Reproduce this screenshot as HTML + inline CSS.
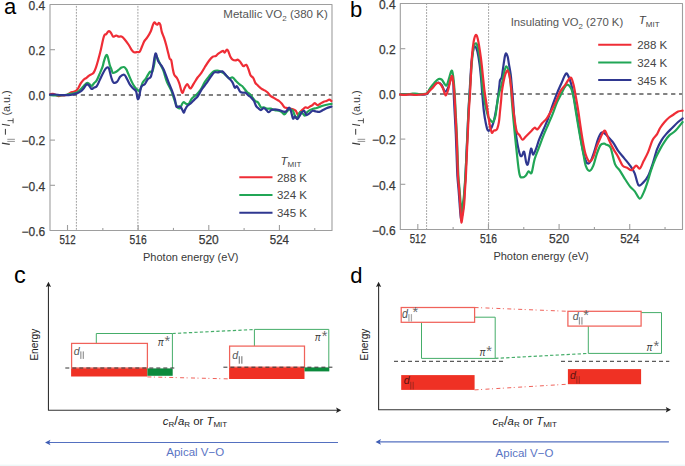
<!DOCTYPE html><html><head><meta charset="utf-8"><style>html,body{margin:0;padding:0;background:#fff;overflow:hidden;}svg{display:block;}text{font-family:"Liberation Sans", sans-serif;}</style></head><body><svg width="685" height="466" viewBox="0 0 685 466" font-family='"Liberation Sans", sans-serif'>
<rect width="685" height="466" fill="#fff"/>
<line x1="76.40" y1="4.50" x2="76.40" y2="230.50" stroke="#9a9a9a" stroke-width="0.95" stroke-dasharray="1.8 1.2" stroke-dashoffset="1.60"/>
<line x1="137.90" y1="4.50" x2="137.90" y2="230.50" stroke="#9a9a9a" stroke-width="0.95" stroke-dasharray="1.8 1.2" stroke-dashoffset="1.60"/>
<line x1="50.00" y1="95.00" x2="332.00" y2="95.00" stroke="#5a5a5a" stroke-width="1.35" stroke-dasharray="4.2 3.8" stroke-dashoffset="1.20"/>
<rect x="50.00" y="4.50" width="282.00" height="226.00" fill="none" stroke="#9e9e9e" stroke-width="1.1" stroke-linejoin="round"/>
<line x1="50.00" y1="49.70" x2="55.00" y2="49.70" stroke="#9e9e9e" stroke-width="1.1"/>
<line x1="50.00" y1="94.90" x2="55.00" y2="94.90" stroke="#9e9e9e" stroke-width="1.1"/>
<line x1="50.00" y1="140.10" x2="55.00" y2="140.10" stroke="#9e9e9e" stroke-width="1.1"/>
<line x1="50.00" y1="185.30" x2="55.00" y2="185.30" stroke="#9e9e9e" stroke-width="1.1"/>
<line x1="67.51" y1="230.50" x2="67.51" y2="225.00" stroke="#9e9e9e" stroke-width="1.1"/>
<line x1="102.83" y1="230.50" x2="102.83" y2="227.90" stroke="#9e9e9e" stroke-width="1.1"/>
<line x1="138.15" y1="230.50" x2="138.15" y2="225.00" stroke="#9e9e9e" stroke-width="1.1"/>
<line x1="173.47" y1="230.50" x2="173.47" y2="227.90" stroke="#9e9e9e" stroke-width="1.1"/>
<line x1="208.79" y1="230.50" x2="208.79" y2="225.00" stroke="#9e9e9e" stroke-width="1.1"/>
<line x1="244.11" y1="230.50" x2="244.11" y2="227.90" stroke="#9e9e9e" stroke-width="1.1"/>
<line x1="279.43" y1="230.50" x2="279.43" y2="225.00" stroke="#9e9e9e" stroke-width="1.1"/>
<line x1="314.75" y1="230.50" x2="314.75" y2="227.90" stroke="#9e9e9e" stroke-width="1.1"/>
<path d="M50.00,94.30 C50.48,94.23 51.93,93.78 52.90,93.90 C53.87,94.02 54.82,94.62 55.80,95.00 C56.78,95.38 57.82,96.12 58.80,96.20 C59.78,96.28 60.73,95.65 61.70,95.50 C62.67,95.35 63.63,95.43 64.60,95.30 C65.57,95.17 66.53,95.12 67.50,94.70 C68.47,94.28 69.42,93.28 70.40,92.80 C71.38,92.32 72.42,92.15 73.40,91.80 C74.38,91.45 75.45,91.38 76.30,90.70 C77.15,90.02 77.77,88.92 78.50,87.70 C79.23,86.48 79.85,84.73 80.70,83.40 C81.55,82.07 82.63,80.63 83.60,79.70 C84.57,78.77 85.53,78.53 86.50,77.80 C87.47,77.07 88.43,75.95 89.40,75.30 C90.37,74.65 91.57,74.38 92.30,73.90 C93.03,73.42 93.18,73.50 93.80,72.40 C94.42,71.30 95.27,69.37 96.00,67.30 C96.73,65.23 97.47,62.62 98.20,60.00 C98.93,57.38 99.55,55.18 100.40,51.60 C101.25,48.02 102.58,41.30 103.30,38.50 C104.02,35.70 104.22,35.53 104.70,34.80 C105.18,34.07 105.63,34.63 106.20,34.10 C106.77,33.57 107.57,32.07 108.10,31.60 C108.63,31.13 108.87,31.00 109.40,31.30 C109.93,31.60 110.68,32.52 111.30,33.40 C111.92,34.28 112.48,36.17 113.10,36.60 C113.72,37.03 114.45,36.18 115.00,36.00 C115.55,35.82 115.80,35.40 116.40,35.50 C117.00,35.60 117.75,36.42 118.60,36.60 C119.45,36.78 120.52,36.17 121.50,36.60 C122.48,37.03 123.28,37.80 124.50,39.20 C125.72,40.60 127.58,43.18 128.80,45.00 C130.02,46.82 130.95,48.88 131.80,50.10 C132.65,51.32 132.93,51.98 133.90,52.30 C134.87,52.62 136.62,52.12 137.60,52.00 C138.58,51.88 139.07,52.52 139.80,51.60 C140.53,50.68 141.27,48.20 142.00,46.50 C142.73,44.80 143.35,42.87 144.20,41.40 C145.05,39.93 146.00,39.40 147.10,37.70 C148.20,36.00 149.82,33.38 150.80,31.20 C151.78,29.02 152.38,26.07 153.00,24.60 C153.62,23.13 154.02,22.52 154.50,22.40 C154.98,22.28 155.42,23.53 155.90,23.90 C156.38,24.27 156.90,24.78 157.40,24.60 C157.90,24.42 158.42,22.80 158.90,22.80 C159.38,22.80 159.82,23.08 160.30,24.60 C160.78,26.12 161.18,29.72 161.80,31.90 C162.42,34.08 163.27,35.52 164.00,37.70 C164.73,39.88 165.47,42.32 166.20,45.00 C166.93,47.68 167.80,51.48 168.40,53.80 C169.00,56.12 169.32,57.80 169.80,58.90 C170.28,60.00 170.82,58.82 171.30,60.40 C171.78,61.98 172.22,66.03 172.70,68.40 C173.18,70.77 173.47,72.97 174.20,74.60 C174.93,76.23 176.25,76.73 177.10,78.20 C177.95,79.67 178.45,80.97 179.30,83.40 C180.15,85.83 181.35,91.95 182.20,92.80 C183.05,93.65 183.55,89.95 184.40,88.50 C185.25,87.05 186.32,84.10 187.30,84.10 C188.28,84.10 189.20,88.62 190.30,88.50 C191.40,88.38 192.68,85.23 193.90,83.40 C195.12,81.57 196.38,79.20 197.60,77.50 C198.82,75.80 199.98,74.95 201.20,73.20 C202.42,71.45 203.57,69.12 204.90,67.00 C206.23,64.88 207.87,62.22 209.20,60.50 C210.53,58.78 211.80,57.45 212.90,56.70 C214.00,55.95 214.95,56.48 215.80,56.00 C216.65,55.52 217.15,54.47 218.00,53.80 C218.85,53.13 220.05,52.48 220.90,52.00 C221.75,51.52 222.48,50.80 223.10,50.90 C223.72,51.00 223.98,52.80 224.60,52.60 C225.22,52.40 226.20,49.98 226.80,49.70 C227.40,49.42 227.60,49.73 228.20,50.90 C228.80,52.07 229.67,55.25 230.40,56.70 C231.13,58.15 231.75,58.98 232.60,59.60 C233.45,60.22 234.65,60.40 235.50,60.40 C236.35,60.40 236.97,59.43 237.70,59.60 C238.43,59.77 239.17,60.55 239.90,61.40 C240.63,62.25 241.50,63.90 242.10,64.70 C242.70,65.50 242.80,66.18 243.50,66.20 C244.20,66.22 245.48,64.33 246.30,64.80 C247.12,65.27 247.70,67.27 248.40,69.00 C249.10,70.73 249.68,73.70 250.50,75.20 C251.32,76.70 252.50,76.72 253.30,78.00 C254.10,79.28 254.62,81.73 255.30,82.90 C255.98,84.07 256.70,84.30 257.40,85.00 C258.10,85.70 258.68,86.40 259.50,87.10 C260.32,87.80 261.37,88.62 262.30,89.20 C263.23,89.78 264.17,90.02 265.10,90.60 C266.03,91.18 266.97,91.77 267.90,92.70 C268.83,93.63 269.77,95.38 270.70,96.20 C271.63,97.02 272.57,97.07 273.50,97.60 C274.43,98.13 275.37,98.83 276.30,99.40 C277.23,99.97 278.17,100.27 279.10,101.00 C280.03,101.73 280.98,102.75 281.90,103.80 C282.82,104.85 283.68,106.60 284.60,107.30 C285.52,108.00 286.47,107.77 287.40,108.00 C288.33,108.23 289.27,108.47 290.20,108.70 C291.13,108.93 292.07,109.05 293.00,109.40 C293.93,109.75 294.98,109.87 295.80,110.80 C296.62,111.73 297.20,114.77 297.90,115.00 C298.60,115.23 299.18,113.13 300.00,112.20 C300.82,111.27 301.87,110.22 302.80,109.40 C303.73,108.58 304.78,107.53 305.60,107.30 C306.42,107.07 307.00,108.12 307.70,108.00 C308.40,107.88 309.00,107.07 309.80,106.60 C310.60,106.13 311.70,105.78 312.50,105.20 C313.30,104.62 313.78,103.10 314.60,103.10 C315.42,103.10 316.47,105.08 317.40,105.20 C318.33,105.32 319.15,104.38 320.20,103.80 C321.25,103.22 322.65,102.17 323.70,101.70 C324.75,101.23 325.57,101.35 326.50,101.00 C327.43,100.65 328.48,99.60 329.30,99.60 C330.12,99.60 331.05,100.77 331.40,101.00" fill="none" stroke="#ef2d36" stroke-width="2.2" stroke-linejoin="round" stroke-linecap="round"/>
<path d="M50.00,95.00 C50.83,95.05 53.33,95.22 55.00,95.30 C56.67,95.38 58.33,95.55 60.00,95.50 C61.67,95.45 63.27,95.27 65.00,95.00 C66.73,94.73 68.52,94.27 70.40,93.90 C72.28,93.53 74.83,93.33 76.30,92.80 C77.77,92.27 78.12,91.67 79.20,90.70 C80.28,89.73 81.58,88.27 82.80,87.00 C84.02,85.73 85.52,83.70 86.50,83.10 C87.48,82.50 87.85,82.92 88.70,83.40 C89.55,83.88 90.75,86.00 91.60,86.00 C92.45,86.00 92.95,84.33 93.80,83.40 C94.65,82.47 95.73,81.98 96.70,80.40 C97.67,78.82 98.62,76.20 99.60,73.90 C100.58,71.60 101.87,68.73 102.60,66.60 C103.33,64.47 103.40,62.98 104.00,61.10 C104.60,59.22 105.58,56.03 106.20,55.30 C106.82,54.57 107.08,55.00 107.70,56.70 C108.32,58.40 109.30,63.48 109.90,65.50 C110.50,67.52 110.82,67.58 111.30,68.80 C111.78,70.02 112.07,72.27 112.80,72.80 C113.53,73.33 114.73,72.48 115.70,72.00 C116.67,71.52 117.63,70.63 118.60,69.90 C119.57,69.17 120.52,68.05 121.50,67.60 C122.48,67.15 123.65,66.82 124.50,67.20 C125.35,67.58 126.12,69.15 126.60,69.90 C127.08,70.65 126.53,69.70 127.40,71.70 C128.27,73.70 130.58,79.35 131.80,81.90 C133.02,84.45 133.73,85.67 134.70,87.00 C135.67,88.33 136.75,89.28 137.60,89.90 C138.45,90.52 138.95,91.92 139.80,90.70 C140.65,89.48 141.73,84.55 142.70,82.60 C143.67,80.65 144.85,80.08 145.60,79.00 C146.35,77.92 146.45,77.32 147.20,76.10 C147.95,74.88 149.25,72.43 150.10,71.70 C150.95,70.97 151.57,73.17 152.30,71.70 C153.03,70.23 153.97,65.77 154.50,62.90 C155.03,60.03 154.65,54.50 155.50,54.50 C156.35,54.50 158.32,60.28 159.60,62.90 C160.88,65.52 161.98,67.03 163.20,70.20 C164.42,73.37 165.55,78.48 166.90,81.90 C168.25,85.32 170.08,87.78 171.30,90.70 C172.52,93.62 173.23,96.73 174.20,99.40 C175.17,102.07 176.13,105.23 177.10,106.70 C178.07,108.17 179.15,108.68 180.00,108.20 C180.85,107.72 181.58,104.83 182.20,103.80 C182.82,102.77 183.08,102.00 183.70,102.00 C184.32,102.00 185.05,103.50 185.90,103.80 C186.75,104.10 187.83,104.65 188.80,103.80 C189.77,102.95 190.48,100.17 191.70,98.70 C192.92,97.23 194.63,96.47 196.10,95.00 C197.57,93.53 199.03,92.08 200.50,89.90 C201.97,87.72 203.45,84.20 204.90,81.90 C206.35,79.60 207.75,77.85 209.20,76.10 C210.65,74.35 212.25,72.33 213.60,71.40 C214.95,70.47 216.08,70.45 217.30,70.50 C218.52,70.55 219.68,71.13 220.90,71.70 C222.12,72.27 223.27,72.82 224.60,73.90 C225.93,74.98 227.57,77.60 228.90,78.20 C230.23,78.80 231.38,77.00 232.60,77.50 C233.82,78.00 234.98,80.02 236.20,81.20 C237.42,82.38 238.92,83.80 239.90,84.60 C240.88,85.40 241.38,85.35 242.10,86.00 C242.82,86.65 243.38,87.50 244.20,88.50 C245.02,89.50 246.07,91.07 247.00,92.00 C247.93,92.93 248.87,93.17 249.80,94.10 C250.73,95.03 251.68,96.45 252.60,97.60 C253.52,98.75 254.38,100.20 255.30,101.00 C256.22,101.80 257.17,101.35 258.10,102.40 C259.03,103.45 259.97,106.48 260.90,107.30 C261.83,108.12 262.65,107.07 263.70,107.30 C264.75,107.53 266.03,108.47 267.20,108.70 C268.37,108.93 269.42,108.47 270.70,108.70 C271.98,108.93 273.50,109.75 274.90,110.10 C276.30,110.45 277.93,110.45 279.10,110.80 C280.27,111.15 280.98,111.62 281.90,112.20 C282.82,112.78 283.68,114.53 284.60,114.30 C285.52,114.07 286.47,111.62 287.40,110.80 C288.33,109.98 289.27,109.40 290.20,109.40 C291.13,109.40 292.18,109.63 293.00,110.80 C293.82,111.97 294.40,115.23 295.10,116.40 C295.80,117.57 296.38,118.50 297.20,117.80 C298.02,117.10 299.07,112.90 300.00,112.20 C300.93,111.50 301.98,113.02 302.80,113.60 C303.62,114.18 304.20,115.93 304.90,115.70 C305.60,115.47 306.18,113.13 307.00,112.20 C307.82,111.27 308.77,110.68 309.80,110.10 C310.83,109.52 312.05,109.05 313.20,108.70 C314.35,108.35 315.53,108.35 316.70,108.00 C317.87,107.65 319.03,107.02 320.20,106.60 C321.37,106.18 322.42,105.85 323.70,105.50 C324.98,105.15 326.62,104.78 327.90,104.50 C329.18,104.22 330.82,103.92 331.40,103.80" fill="none" stroke="#21a656" stroke-width="2.2" stroke-linejoin="round" stroke-linecap="round"/>
<path d="M50.00,94.70 C50.83,94.67 53.33,94.45 55.00,94.50 C56.67,94.55 58.33,94.88 60.00,95.00 C61.67,95.12 63.27,95.20 65.00,95.20 C66.73,95.20 68.52,95.27 70.40,95.00 C72.28,94.73 74.58,94.20 76.30,93.60 C78.02,93.00 79.48,92.25 80.70,91.40 C81.92,90.55 82.63,89.65 83.60,88.50 C84.57,87.35 85.65,85.07 86.50,84.50 C87.35,83.93 87.85,84.37 88.70,85.10 C89.55,85.83 90.75,88.47 91.60,88.90 C92.45,89.33 92.95,88.13 93.80,87.70 C94.65,87.27 95.73,87.52 96.70,86.30 C97.67,85.08 98.62,82.47 99.60,80.40 C100.58,78.33 101.62,75.83 102.60,73.90 C103.58,71.97 104.65,69.90 105.50,68.80 C106.35,67.70 107.10,67.30 107.70,67.30 C108.30,67.30 108.50,67.10 109.10,68.80 C109.70,70.50 110.57,75.20 111.30,77.50 C112.03,79.80 112.52,81.92 113.50,82.60 C114.48,83.28 116.10,82.57 117.20,81.60 C118.30,80.63 119.02,77.97 120.10,76.80 C121.18,75.63 122.73,74.60 123.70,74.60 C124.67,74.60 124.92,75.22 125.90,76.80 C126.88,78.38 128.38,82.15 129.60,84.10 C130.82,86.05 132.12,87.28 133.20,88.50 C134.28,89.72 135.37,89.70 136.10,91.40 C136.83,93.10 137.10,97.73 137.60,98.70 C138.10,99.67 138.50,99.15 139.10,97.20 C139.70,95.25 140.23,89.18 141.20,87.00 C142.17,84.82 143.78,85.43 144.90,84.10 C146.02,82.77 146.92,80.22 147.90,79.00 C148.88,77.78 149.95,78.75 150.80,76.80 C151.65,74.85 152.22,71.18 153.00,67.30 C153.78,63.42 154.65,54.53 155.50,53.50 C156.35,52.47 157.05,58.98 158.10,61.10 C159.15,63.22 160.82,64.68 161.80,66.20 C162.78,67.72 162.90,67.58 164.00,70.20 C165.10,72.82 167.07,78.48 168.40,81.90 C169.73,85.32 170.92,87.78 172.00,90.70 C173.08,93.62 174.17,96.73 174.90,99.40 C175.63,102.07 175.67,105.53 176.40,106.70 C177.13,107.87 178.45,106.15 179.30,106.40 C180.15,106.65 180.77,107.17 181.50,108.20 C182.23,109.23 183.10,112.37 183.70,112.60 C184.30,112.83 184.50,110.70 185.10,109.60 C185.70,108.50 186.43,106.97 187.30,106.00 C188.17,105.03 189.08,104.90 190.30,103.80 C191.52,102.70 193.38,100.62 194.60,99.40 C195.82,98.18 196.38,98.20 197.60,96.50 C198.82,94.80 200.45,91.38 201.90,89.20 C203.35,87.02 204.83,85.47 206.30,83.40 C207.77,81.33 209.37,78.63 210.70,76.80 C212.03,74.97 213.08,73.13 214.30,72.40 C215.52,71.67 216.65,72.57 218.00,72.40 C219.35,72.23 221.07,70.92 222.40,71.40 C223.73,71.88 224.78,74.03 226.00,75.30 C227.22,76.57 228.60,77.78 229.70,79.00 C230.80,80.22 231.75,81.15 232.60,82.60 C233.45,84.05 234.07,87.08 234.80,87.70 C235.53,88.32 236.15,85.68 237.00,86.30 C237.85,86.92 238.93,90.33 239.90,91.40 C240.87,92.47 241.85,92.48 242.80,92.70 C243.75,92.92 244.67,92.23 245.60,92.70 C246.53,93.17 247.47,94.68 248.40,95.50 C249.33,96.32 250.27,96.68 251.20,97.60 C252.13,98.52 253.20,99.62 254.00,101.00 C254.80,102.38 255.32,104.73 256.00,105.90 C256.68,107.07 257.28,107.30 258.10,108.00 C258.92,108.70 259.97,110.10 260.90,110.10 C261.83,110.10 262.77,108.00 263.70,108.00 C264.63,108.00 265.68,109.40 266.50,110.10 C267.32,110.80 267.78,112.20 268.60,112.20 C269.42,112.20 270.35,110.57 271.40,110.10 C272.45,109.63 273.62,109.40 274.90,109.40 C276.18,109.40 277.72,109.75 279.10,110.10 C280.48,110.45 282.05,111.27 283.20,111.50 C284.35,111.73 285.02,112.13 286.00,111.50 C286.98,110.87 288.28,107.82 289.10,107.70 C289.92,107.58 290.25,109.00 290.90,110.80 C291.55,112.60 292.30,117.57 293.00,118.50 C293.70,119.43 294.40,116.28 295.10,116.40 C295.80,116.52 296.50,119.20 297.20,119.20 C297.90,119.20 298.60,117.45 299.30,116.40 C300.00,115.35 300.58,113.83 301.40,112.90 C302.22,111.97 303.38,110.45 304.20,110.80 C305.02,111.15 305.48,114.53 306.30,115.00 C307.12,115.47 308.07,114.30 309.10,113.60 C310.13,112.90 311.35,111.15 312.50,110.80 C313.65,110.45 314.83,111.32 316.00,111.50 C317.17,111.68 318.33,112.13 319.50,111.90 C320.67,111.67 321.83,110.70 323.00,110.10 C324.17,109.50 325.10,108.88 326.50,108.30 C327.90,107.72 330.58,106.88 331.40,106.60" fill="none" stroke="#2f3790" stroke-width="2.2" stroke-linejoin="round" stroke-linecap="round"/>
<text x="45.30" y="9.80" text-anchor="end" font-size="12" fill="#383838" stroke="#383838" stroke-width="0.25">0.4</text>
<text x="45.30" y="55.00" text-anchor="end" font-size="12" fill="#383838" stroke="#383838" stroke-width="0.25">0.2</text>
<text x="45.30" y="100.20" text-anchor="end" font-size="12" fill="#383838" stroke="#383838" stroke-width="0.25">0.0</text>
<text x="45.30" y="145.40" text-anchor="end" font-size="12" fill="#383838" stroke="#383838" stroke-width="0.25">−0.2</text>
<text x="45.30" y="190.60" text-anchor="end" font-size="12" fill="#383838" stroke="#383838" stroke-width="0.25">−0.4</text>
<text x="45.30" y="235.80" text-anchor="end" font-size="12" fill="#383838" stroke="#383838" stroke-width="0.25">−0.6</text>
<text x="67.51" y="243.90" text-anchor="middle" font-size="12" fill="#383838" stroke="#383838" stroke-width="0.25" textLength="16.2" lengthAdjust="spacingAndGlyphs">512</text>
<text x="138.15" y="243.90" text-anchor="middle" font-size="12" fill="#383838" stroke="#383838" stroke-width="0.25" textLength="17.1" lengthAdjust="spacingAndGlyphs">516</text>
<text x="208.79" y="243.90" text-anchor="middle" font-size="12" fill="#383838" stroke="#383838" stroke-width="0.25" textLength="20.0" lengthAdjust="spacingAndGlyphs">520</text>
<text x="279.43" y="243.90" text-anchor="middle" font-size="12" fill="#383838" stroke="#383838" stroke-width="0.25" textLength="19.2" lengthAdjust="spacingAndGlyphs">524</text>
<text x="190.70" y="260.70" text-anchor="middle" font-size="11" fill="#383838">Photon energy (eV)</text>
<g transform="translate(0.00,0)" stroke="#383838" fill="none" stroke-linecap="butt"><path d="M1.9,143.1 L9.75,144.4" stroke-width="1.15"/><path d="M7.3,139.3 H14.9 M7.3,141.4 H14.9" stroke-width="0.8" stroke="#777"/><path d="M5.4,128.9 V134.7" stroke-width="1.0"/><path d="M1.9,124.2 L9.75,125.5" stroke-width="1.15"/><path d="M7.5,120.6 H13.1 M13.1,118.3 V123.3" stroke-width="0.85"/></g><text transform="translate(9.75,115.6) rotate(-90)" font-size="10.8" fill="#383838">(a.u.)</text>
<text x="4.00" y="14.00" font-size="22" fill="#000">a</text>
<text x="327.8" y="18.3" text-anchor="end" font-size="11.5" fill="#555" textLength="104.5" lengthAdjust="spacingAndGlyphs">Metallic VO<tspan font-size="8" dy="2.5">2</tspan><tspan dy="-2.5"> (380 K)</tspan></text>
<text x="280.50" y="164.80" font-size="11.5" fill="#444"><tspan font-style="italic">T</tspan><tspan font-size="8" dy="2.6">MIT</tspan></text><line x1="239.30" y1="177.30" x2="272.50" y2="177.30" stroke="#ef2d36" stroke-width="2"/><text x="276.90" y="181.70" font-size="11.5" fill="#444">288 K</text><line x1="239.30" y1="195.00" x2="272.50" y2="195.00" stroke="#21a656" stroke-width="2"/><text x="276.90" y="199.40" font-size="11.5" fill="#444">324 K</text><line x1="239.30" y1="212.70" x2="272.50" y2="212.70" stroke="#2f3790" stroke-width="2"/><text x="276.90" y="217.10" font-size="11.5" fill="#444">345 K</text>
<line x1="426.60" y1="3.50" x2="426.60" y2="229.50" stroke="#9a9a9a" stroke-width="0.95" stroke-dasharray="1.8 1.2" stroke-dashoffset="0.40"/>
<line x1="488.60" y1="3.50" x2="488.60" y2="229.50" stroke="#9a9a9a" stroke-width="0.95" stroke-dasharray="1.8 1.2" stroke-dashoffset="0.40"/>
<line x1="400.30" y1="94.00" x2="682.50" y2="94.00" stroke="#5a5a5a" stroke-width="1.35" stroke-dasharray="4.3 3.67" stroke-dashoffset="0.20"/>
<rect x="400.30" y="3.50" width="282.20" height="226.00" fill="none" stroke="#9e9e9e" stroke-width="1.1" stroke-linejoin="round"/>
<line x1="400.30" y1="48.70" x2="405.30" y2="48.70" stroke="#9e9e9e" stroke-width="1.1"/>
<line x1="400.30" y1="93.90" x2="405.30" y2="93.90" stroke="#9e9e9e" stroke-width="1.1"/>
<line x1="400.30" y1="139.10" x2="405.30" y2="139.10" stroke="#9e9e9e" stroke-width="1.1"/>
<line x1="400.30" y1="184.30" x2="405.30" y2="184.30" stroke="#9e9e9e" stroke-width="1.1"/>
<line x1="417.81" y1="229.50" x2="417.81" y2="224.00" stroke="#9e9e9e" stroke-width="1.1"/>
<line x1="453.13" y1="229.50" x2="453.13" y2="226.90" stroke="#9e9e9e" stroke-width="1.1"/>
<line x1="488.45" y1="229.50" x2="488.45" y2="224.00" stroke="#9e9e9e" stroke-width="1.1"/>
<line x1="523.77" y1="229.50" x2="523.77" y2="226.90" stroke="#9e9e9e" stroke-width="1.1"/>
<line x1="559.09" y1="229.50" x2="559.09" y2="224.00" stroke="#9e9e9e" stroke-width="1.1"/>
<line x1="594.41" y1="229.50" x2="594.41" y2="226.90" stroke="#9e9e9e" stroke-width="1.1"/>
<line x1="629.73" y1="229.50" x2="629.73" y2="224.00" stroke="#9e9e9e" stroke-width="1.1"/>
<line x1="665.05" y1="229.50" x2="665.05" y2="226.90" stroke="#9e9e9e" stroke-width="1.1"/>
<path d="M400.00,94.50 C401.67,94.47 406.67,94.30 410.00,94.30 C413.33,94.30 417.20,94.55 420.00,94.50 C422.80,94.45 425.13,94.87 426.80,94.00 C428.47,93.13 428.57,90.97 430.00,89.30 C431.43,87.63 433.97,85.13 435.40,84.00 C436.83,82.87 437.53,82.32 438.60,82.50 C439.67,82.68 440.73,83.60 441.80,85.10 C442.87,86.60 443.92,91.15 445.00,91.50 C446.08,91.85 447.30,89.35 448.30,87.20 C449.30,85.05 450.18,79.67 451.00,78.60 C451.82,77.53 452.77,78.57 453.20,80.80 C453.63,83.03 453.33,86.30 453.60,92.00 C453.87,97.70 454.43,108.00 454.80,115.00 C455.17,122.00 455.50,127.33 455.80,134.00 C456.10,140.67 456.33,148.00 456.60,155.00 C456.87,162.00 457.07,170.17 457.40,176.00 C457.73,181.83 458.22,185.17 458.60,190.00 C458.98,194.83 459.40,201.00 459.70,205.00 C460.00,209.00 460.15,211.50 460.40,214.00 C460.65,216.50 460.88,220.00 461.20,220.00 C461.52,220.00 461.90,216.50 462.30,214.00 C462.70,211.50 463.22,209.00 463.60,205.00 C463.98,201.00 464.28,194.83 464.60,190.00 C464.92,185.17 465.20,181.83 465.50,176.00 C465.80,170.17 466.08,162.00 466.40,155.00 C466.72,148.00 467.07,141.17 467.40,134.00 C467.73,126.83 468.03,119.00 468.40,112.00 C468.77,105.00 469.08,100.33 469.60,92.00 C470.12,83.67 470.83,69.33 471.50,62.00 C472.17,54.67 473.02,50.60 473.60,48.00 C474.18,45.40 474.40,45.95 475.00,46.40 C475.60,46.85 476.43,47.68 477.20,50.70 C477.97,53.72 478.93,59.62 479.60,64.50 C480.27,69.38 480.75,75.03 481.20,80.00 C481.65,84.97 481.85,89.05 482.30,94.30 C482.75,99.55 483.28,106.50 483.90,111.50 C484.52,116.50 485.37,121.18 486.00,124.30 C486.63,127.42 487.07,129.22 487.70,130.20 C488.33,131.18 489.08,130.82 489.80,130.20 C490.52,129.58 491.28,128.20 492.00,126.50 C492.72,124.80 493.40,122.87 494.10,120.00 C494.80,117.13 495.58,112.87 496.20,109.30 C496.82,105.73 497.35,101.82 497.80,98.60 C498.25,95.38 498.62,92.35 498.90,90.00 C499.18,87.65 499.32,86.10 499.50,84.50 C499.68,82.90 499.62,81.67 500.00,80.40 C500.38,79.13 501.30,78.87 501.80,76.90 C502.30,74.93 502.50,71.95 503.00,68.60 C503.50,65.25 504.32,59.35 504.80,56.80 C505.28,54.25 505.42,53.30 505.90,53.30 C506.38,53.30 507.20,55.03 507.70,56.80 C508.20,58.57 508.40,60.95 508.90,63.90 C509.40,66.85 510.22,70.77 510.70,74.50 C511.18,78.23 511.42,82.05 511.80,86.30 C512.18,90.55 512.58,94.72 513.00,100.00 C513.42,105.28 513.72,111.63 514.30,118.00 C514.88,124.37 515.63,132.33 516.50,138.20 C517.37,144.07 518.63,150.20 519.50,153.20 C520.37,156.20 520.93,156.45 521.70,156.20 C522.47,155.95 523.35,150.68 524.10,151.70 C524.85,152.72 525.55,160.28 526.20,162.30 C526.85,164.32 527.20,166.07 528.00,163.80 C528.80,161.53 530.15,150.22 531.00,148.70 C531.85,147.18 532.25,154.70 533.10,154.70 C533.95,154.70 535.10,151.20 536.10,148.70 C537.10,146.20 537.85,142.95 539.10,139.70 C540.35,136.45 542.10,132.72 543.60,129.20 C545.10,125.68 546.60,122.62 548.10,118.60 C549.60,114.58 551.10,109.35 552.60,105.10 C554.10,100.85 555.58,96.85 557.10,93.10 C558.62,89.35 560.47,85.45 561.70,82.60 C562.93,79.75 563.65,77.52 564.50,76.00 C565.35,74.48 565.92,72.88 566.80,73.50 C567.68,74.12 568.90,77.23 569.80,79.70 C570.70,82.17 571.38,84.60 572.20,88.30 C573.02,92.00 573.87,97.17 574.70,101.90 C575.53,106.63 576.38,111.78 577.20,116.70 C578.02,121.62 578.78,126.48 579.60,131.40 C580.42,136.32 581.27,141.88 582.10,146.20 C582.93,150.52 583.70,154.43 584.60,157.30 C585.50,160.17 586.48,162.78 587.50,163.40 C588.52,164.02 589.55,163.05 590.70,161.00 C591.85,158.95 593.17,154.80 594.40,151.10 C595.63,147.40 596.92,141.88 598.10,138.80 C599.28,135.72 600.28,133.38 601.50,132.60 C602.72,131.82 604.05,133.10 605.40,134.10 C606.75,135.10 608.25,137.10 609.60,138.60 C610.95,140.10 612.10,141.10 613.50,143.10 C614.90,145.10 616.23,148.10 618.00,150.60 C619.77,153.10 622.08,155.60 624.10,158.10 C626.12,160.60 628.35,163.10 630.10,165.60 C631.85,168.10 633.20,169.85 634.60,173.10 C636.00,176.35 637.00,183.60 638.50,185.10 C640.00,186.60 642.00,183.60 643.60,182.10 C645.20,180.60 646.60,179.10 648.10,176.10 C649.60,173.10 651.10,168.60 652.60,164.10 C654.10,159.60 655.60,153.10 657.10,149.10 C658.60,145.10 660.10,142.60 661.60,140.10 C663.10,137.60 664.35,136.12 666.10,134.10 C667.85,132.08 670.10,130.02 672.10,128.00 C674.10,125.98 676.35,123.60 678.10,122.00 C679.85,120.40 681.85,119.00 682.60,118.40" fill="none" stroke="#2f3790" stroke-width="2.2" stroke-linejoin="round" stroke-linecap="round"/>
<path d="M400.00,94.50 C401.67,94.42 407.50,94.17 410.00,94.00 C412.50,93.83 413.33,93.50 415.00,93.50 C416.67,93.50 418.03,94.00 420.00,94.00 C421.97,94.00 425.13,94.45 426.80,93.50 C428.47,92.55 428.75,90.07 430.00,88.30 C431.25,86.53 432.87,84.45 434.30,82.90 C435.73,81.35 437.35,79.53 438.60,79.00 C439.85,78.47 440.80,78.87 441.80,79.70 C442.80,80.53 443.77,83.10 444.60,84.00 C445.43,84.90 446.02,86.18 446.80,85.10 C447.58,84.02 448.50,79.93 449.30,77.50 C450.10,75.07 450.95,70.67 451.60,70.50 C452.25,70.33 452.70,72.92 453.20,76.50 C453.70,80.08 454.17,85.58 454.60,92.00 C455.03,98.42 455.43,108.00 455.80,115.00 C456.17,122.00 456.50,127.33 456.80,134.00 C457.10,140.67 457.33,148.00 457.60,155.00 C457.87,162.00 458.07,170.17 458.40,176.00 C458.73,181.83 459.22,185.33 459.60,190.00 C459.98,194.67 460.38,199.92 460.70,204.00 C461.02,208.08 461.18,214.17 461.50,214.50 C461.82,214.83 462.20,209.08 462.60,206.00 C463.00,202.92 463.53,199.50 463.90,196.00 C464.27,192.50 464.52,189.00 464.80,185.00 C465.08,181.00 465.32,177.00 465.60,172.00 C465.88,167.00 466.18,161.33 466.50,155.00 C466.82,148.67 467.17,141.17 467.50,134.00 C467.83,126.83 468.12,119.00 468.50,112.00 C468.88,105.00 469.23,100.33 469.80,92.00 C470.37,83.67 471.23,69.60 471.90,62.00 C472.57,54.40 473.23,49.48 473.80,46.40 C474.37,43.32 474.73,43.67 475.30,43.50 C475.87,43.33 476.42,42.77 477.20,45.40 C477.98,48.03 479.28,54.20 480.00,59.30 C480.72,64.40 481.03,70.88 481.50,76.00 C481.97,81.12 482.13,84.98 482.80,90.00 C483.47,95.02 484.60,101.63 485.50,106.10 C486.40,110.57 487.40,114.48 488.20,116.80 C489.00,119.12 489.58,119.10 490.30,120.00 C491.02,120.90 491.87,122.20 492.50,122.20 C493.13,122.20 493.57,121.25 494.10,120.00 C494.63,118.75 495.25,117.02 495.70,114.70 C496.15,112.38 496.35,109.15 496.80,106.10 C497.25,103.05 497.93,98.83 498.40,96.40 C498.87,93.97 499.03,93.57 499.60,91.50 C500.17,89.43 501.03,87.22 501.80,84.00 C502.57,80.78 503.45,75.15 504.20,72.20 C504.95,69.25 505.52,66.30 506.30,66.30 C507.08,66.30 508.17,69.25 508.90,72.20 C509.63,75.15 510.22,79.37 510.70,84.00 C511.18,88.63 511.33,93.97 511.80,100.00 C512.27,106.03 512.72,111.83 513.50,120.20 C514.28,128.57 515.50,141.18 516.50,150.20 C517.50,159.22 518.48,169.78 519.50,174.30 C520.52,178.82 521.58,177.05 522.60,177.30 C523.62,177.55 524.60,176.80 525.60,175.80 C526.60,174.80 527.60,171.80 528.60,171.30 C529.60,170.80 530.60,174.82 531.60,172.80 C532.60,170.78 533.35,163.47 534.60,159.20 C535.85,154.93 537.60,151.20 539.10,147.20 C540.60,143.20 542.10,138.95 543.60,135.20 C545.10,131.45 546.60,128.22 548.10,124.70 C549.60,121.18 551.10,117.87 552.60,114.10 C554.10,110.33 555.58,105.60 557.10,102.10 C558.62,98.60 560.47,95.53 561.70,93.10 C562.93,90.67 563.57,88.92 564.50,87.50 C565.43,86.08 566.22,84.47 567.30,84.60 C568.38,84.73 569.97,86.23 571.00,88.30 C572.03,90.37 572.68,93.10 573.50,97.00 C574.32,100.90 574.88,105.55 575.90,111.70 C576.92,117.85 578.37,126.92 579.60,133.90 C580.83,140.88 582.27,148.27 583.30,153.60 C584.33,158.93 584.77,163.03 585.80,165.90 C586.83,168.77 588.27,170.80 589.50,170.80 C590.73,170.80 591.97,168.77 593.20,165.90 C594.43,163.03 595.67,157.08 596.90,153.60 C598.13,150.12 599.37,146.65 600.60,145.00 C601.83,143.35 603.40,143.77 604.30,143.70 C605.20,143.63 604.97,143.95 606.00,144.60 C607.03,145.25 609.00,144.35 610.50,147.60 C612.00,150.85 613.50,160.35 615.00,164.10 C616.50,167.85 617.98,167.85 619.50,170.10 C621.02,172.35 622.33,174.85 624.10,177.60 C625.87,180.35 628.35,184.35 630.10,186.60 C631.85,188.85 633.00,189.10 634.60,191.10 C636.20,193.10 638.20,198.35 639.70,198.60 C641.20,198.85 642.30,195.35 643.60,192.60 C644.90,189.85 646.25,185.85 647.50,182.10 C648.75,178.35 649.75,174.10 651.10,170.10 C652.45,166.10 654.10,161.60 655.60,158.10 C657.10,154.60 658.60,151.85 660.10,149.10 C661.60,146.35 663.10,143.85 664.60,141.60 C666.10,139.35 667.35,137.35 669.10,135.60 C670.85,133.85 672.85,133.37 675.10,131.10 C677.35,128.83 681.35,123.52 682.60,122.00" fill="none" stroke="#21a656" stroke-width="2.2" stroke-linejoin="round" stroke-linecap="round"/>
<path d="M400.00,94.50 C400.83,94.55 403.33,94.83 405.00,94.80 C406.67,94.77 408.33,94.27 410.00,94.30 C411.67,94.33 413.33,94.95 415.00,95.00 C416.67,95.05 418.50,94.72 420.00,94.60 C421.50,94.48 422.87,94.47 424.00,94.30 C425.13,94.13 425.80,94.25 426.80,93.60 C427.80,92.95 428.93,91.47 430.00,90.40 C431.07,89.33 432.12,88.38 433.20,87.20 C434.28,86.02 435.42,83.95 436.50,83.30 C437.58,82.65 438.63,82.47 439.70,83.30 C440.77,84.13 441.90,86.28 442.90,88.30 C443.90,90.32 444.80,95.23 445.70,95.40 C446.60,95.57 447.30,92.53 448.30,89.30 C449.30,86.07 450.87,77.05 451.70,76.00 C452.53,74.95 452.87,80.33 453.30,83.00 C453.73,85.67 453.93,86.67 454.30,92.00 C454.67,97.33 455.13,108.00 455.50,115.00 C455.87,122.00 456.20,127.33 456.50,134.00 C456.80,140.67 457.05,148.00 457.30,155.00 C457.55,162.00 457.68,170.17 458.00,176.00 C458.32,181.83 458.83,185.17 459.20,190.00 C459.57,194.83 459.93,200.83 460.20,205.00 C460.47,209.17 460.60,212.08 460.80,215.00 C461.00,217.92 461.10,222.33 461.40,222.50 C461.70,222.67 462.15,218.92 462.60,216.00 C463.05,213.08 463.70,209.33 464.10,205.00 C464.50,200.67 464.70,194.83 465.00,190.00 C465.30,185.17 465.60,181.83 465.90,176.00 C466.20,170.17 466.48,162.00 466.80,155.00 C467.12,148.00 467.47,141.17 467.80,134.00 C468.13,126.83 468.42,119.00 468.80,112.00 C469.18,105.00 469.58,101.13 470.10,92.00 C470.62,82.87 471.32,65.53 471.90,57.20 C472.48,48.87 472.95,45.70 473.60,42.00 C474.25,38.30 475.10,35.50 475.80,35.00 C476.50,34.50 476.97,35.32 477.80,39.00 C478.63,42.68 479.97,51.10 480.80,57.10 C481.63,63.10 482.20,69.52 482.80,75.00 C483.40,80.48 483.87,85.72 484.40,90.00 C484.93,94.28 485.45,97.12 486.00,100.70 C486.55,104.28 487.15,107.92 487.70,111.50 C488.25,115.08 488.80,119.20 489.30,122.20 C489.80,125.20 490.25,127.72 490.70,129.50 C491.15,131.28 491.52,132.68 492.00,132.90 C492.48,133.12 492.98,131.25 493.60,130.80 C494.22,130.35 495.08,130.57 495.70,130.20 C496.32,129.83 496.77,129.93 497.30,128.60 C497.83,127.27 498.45,125.05 498.90,122.20 C499.35,119.35 499.63,115.08 500.00,111.50 C500.37,107.92 500.80,103.92 501.10,100.70 C501.40,97.48 501.38,95.38 501.80,92.20 C502.22,89.02 503.02,84.55 503.60,81.60 C504.18,78.65 504.65,76.37 505.30,74.50 C505.95,72.63 506.80,70.20 507.50,70.40 C508.20,70.60 508.97,73.43 509.50,75.70 C510.03,77.97 510.32,80.85 510.70,84.00 C511.08,87.15 511.52,91.93 511.80,94.60 C512.08,97.27 512.12,97.25 512.40,100.00 C512.68,102.75 512.82,105.98 513.50,111.10 C514.18,116.22 515.50,126.68 516.50,130.70 C517.50,134.72 518.48,133.70 519.50,135.20 C520.52,136.70 521.58,139.45 522.60,139.70 C523.62,139.95 524.60,137.70 525.60,136.70 C526.60,135.70 527.60,134.70 528.60,133.70 C529.60,132.70 530.60,131.70 531.60,130.70 C532.60,129.70 533.60,127.95 534.60,127.70 C535.60,127.45 536.35,129.95 537.60,129.20 C538.85,128.45 540.60,124.97 542.10,123.20 C543.60,121.43 545.10,120.62 546.60,118.60 C548.10,116.58 549.60,113.85 551.10,111.10 C552.60,108.35 554.08,105.35 555.60,102.10 C557.12,98.85 558.68,94.35 560.20,91.60 C561.72,88.85 563.40,87.45 564.70,85.60 C566.00,83.75 566.95,81.82 568.00,80.50 C569.05,79.18 570.08,77.02 571.00,77.70 C571.92,78.38 572.68,81.38 573.50,84.60 C574.32,87.82 575.08,92.48 575.90,97.00 C576.72,101.52 577.57,106.37 578.40,111.70 C579.23,117.03 580.08,123.67 580.90,129.00 C581.72,134.33 582.48,139.40 583.30,143.70 C584.12,148.00 584.77,151.83 585.80,154.80 C586.83,157.77 588.27,161.08 589.50,161.50 C590.73,161.92 591.97,159.85 593.20,157.30 C594.43,154.75 595.67,149.48 596.90,146.20 C598.13,142.92 599.58,139.88 600.60,137.60 C601.62,135.32 602.20,133.58 603.00,132.50 C603.80,131.42 604.40,129.83 605.40,131.10 C606.40,132.37 607.65,137.10 609.00,140.10 C610.35,143.10 612.00,146.35 613.50,149.10 C615.00,151.85 616.48,153.85 618.00,156.60 C619.52,159.35 621.08,163.75 622.60,165.60 C624.12,167.45 625.60,166.95 627.10,167.70 C628.60,168.45 630.10,170.45 631.60,170.10 C633.10,169.75 634.75,165.85 636.10,165.60 C637.45,165.35 638.45,169.35 639.70,168.60 C640.95,167.85 642.20,163.85 643.60,161.10 C645.00,158.35 646.60,155.60 648.10,152.10 C649.60,148.60 651.10,143.10 652.60,140.10 C654.10,137.10 655.85,136.12 657.10,134.10 C658.35,132.08 658.85,130.02 660.10,128.00 C661.35,125.98 663.10,123.75 664.60,122.00 C666.10,120.25 667.60,118.75 669.10,117.50 C670.60,116.25 672.10,115.50 673.60,114.50 C675.10,113.50 676.60,112.15 678.10,111.50 C679.60,110.85 681.85,110.75 682.60,110.60" fill="none" stroke="#ef2d36" stroke-width="2.2" stroke-linejoin="round" stroke-linecap="round"/>
<text x="395.60" y="8.80" text-anchor="end" font-size="12" fill="#383838" stroke="#383838" stroke-width="0.25">0.4</text>
<text x="395.60" y="54.00" text-anchor="end" font-size="12" fill="#383838" stroke="#383838" stroke-width="0.25">0.2</text>
<text x="395.60" y="99.20" text-anchor="end" font-size="12" fill="#383838" stroke="#383838" stroke-width="0.25">0.0</text>
<text x="395.60" y="144.40" text-anchor="end" font-size="12" fill="#383838" stroke="#383838" stroke-width="0.25">−0.2</text>
<text x="395.60" y="189.60" text-anchor="end" font-size="12" fill="#383838" stroke="#383838" stroke-width="0.25">−0.4</text>
<text x="395.60" y="234.80" text-anchor="end" font-size="12" fill="#383838" stroke="#383838" stroke-width="0.25">−0.6</text>
<text x="417.81" y="242.90" text-anchor="middle" font-size="12" fill="#383838" stroke="#383838" stroke-width="0.25" textLength="16.2" lengthAdjust="spacingAndGlyphs">512</text>
<text x="488.45" y="242.90" text-anchor="middle" font-size="12" fill="#383838" stroke="#383838" stroke-width="0.25" textLength="17.1" lengthAdjust="spacingAndGlyphs">516</text>
<text x="559.09" y="242.90" text-anchor="middle" font-size="12" fill="#383838" stroke="#383838" stroke-width="0.25" textLength="20.0" lengthAdjust="spacingAndGlyphs">520</text>
<text x="629.73" y="242.90" text-anchor="middle" font-size="12" fill="#383838" stroke="#383838" stroke-width="0.25" textLength="19.2" lengthAdjust="spacingAndGlyphs">524</text>
<text x="541.10" y="259.70" text-anchor="middle" font-size="11" fill="#383838">Photon energy (eV)</text>
<g transform="translate(350.30,0)" stroke="#383838" fill="none" stroke-linecap="butt"><path d="M1.9,143.1 L9.75,144.4" stroke-width="1.15"/><path d="M7.3,139.3 H14.9 M7.3,141.4 H14.9" stroke-width="0.8" stroke="#777"/><path d="M5.4,128.9 V134.7" stroke-width="1.0"/><path d="M1.9,124.2 L9.75,125.5" stroke-width="1.15"/><path d="M7.5,120.6 H13.1 M13.1,118.3 V123.3" stroke-width="0.85"/></g><text transform="translate(360.05,115.6) rotate(-90)" font-size="10.8" fill="#383838">(a.u.)</text>
<text x="350.00" y="16.60" font-size="22" fill="#000">b</text>
<text x="623.2" y="26.2" text-anchor="end" font-size="11.5" fill="#555" textLength="112.5" lengthAdjust="spacingAndGlyphs">Insulating VO<tspan font-size="8" dy="2.5">2</tspan><tspan dy="-2.5"> (270 K)</tspan></text>
<text x="638.80" y="24.30" font-size="11.5" fill="#444"><tspan font-style="italic">T</tspan><tspan font-size="8" dy="2.6">MIT</tspan></text><line x1="598.20" y1="44.70" x2="631.40" y2="44.70" stroke="#ef2d36" stroke-width="2"/><text x="637.20" y="49.10" font-size="11.5" fill="#444">288 K</text><line x1="598.20" y1="62.40" x2="631.40" y2="62.40" stroke="#21a656" stroke-width="2"/><text x="637.20" y="66.80" font-size="11.5" fill="#444">324 K</text><line x1="598.20" y1="80.10" x2="631.40" y2="80.10" stroke="#2f3790" stroke-width="2"/><text x="637.20" y="84.50" font-size="11.5" fill="#444">345 K</text>
<text x="14.0" y="283" font-size="23.5" fill="#000">c</text>
<path d="M48.45,410.30 V285.30 M47.95,410.30 H337.80" stroke="#333" stroke-width="1.1" fill="none"/>
<path d="M48.45,281.80 L45.85,287.00 L48.45,286.00 L51.05,287.00 Z" fill="#222"/>
<path d="M341.30,410.30 L336.10,407.60 L337.10,410.30 L336.10,413.00 Z" fill="#222"/>
<text transform="translate(38.00,344.70) rotate(-90)" text-anchor="middle" font-size="10.8" fill="#222" textLength="31.8" lengthAdjust="spacingAndGlyphs">Energy</text>
<path d="M96.3,343.4 V333.5 H172.4 V368" stroke="#45ad69" stroke-width="1" fill="none"/>
<rect x="71.6" y="343.4" width="75.8" height="24.6" fill="#fff" stroke="#f0625a" stroke-width="1.25"/>
<rect x="71.1" y="368.4" width="76.3" height="8.1" fill="#ef3124"/>
<rect x="147.4" y="368.4" width="25.3" height="7.4" fill="#0b8a3c"/>
<line x1="65.3" y1="368.0" x2="176" y2="368.0" stroke="#333" stroke-width="1" stroke-dasharray="4 3"/>
<line x1="172.4" y1="333.5" x2="254.2" y2="329.5" stroke="#45ad69" stroke-width="1.2" stroke-dasharray="3.3 2.2"/>
<line x1="147.4" y1="376.9" x2="229.6" y2="378.9" stroke="#f0625a" stroke-width="1" stroke-dasharray="4 2.5 1 3.4"/>
<path d="M254.4,346 V329.4 H328.8 V367.2" stroke="#45ad69" stroke-width="1" fill="none"/>
<rect x="229.6" y="346.1" width="74.9" height="21.1" fill="#fff" stroke="#f0625a" stroke-width="1.25"/>
<rect x="229.1" y="367.6" width="75.4" height="11.4" fill="#ef3124"/>
<rect x="304.5" y="367.4" width="24.8" height="4" fill="#0b8a3c"/>
<line x1="223.4" y1="367.2" x2="333.8" y2="367.2" stroke="#333" stroke-width="1" stroke-dasharray="4 3"/>
<text x="73.85" y="354.60" font-size="11.8" font-style="italic" fill="#555" textLength="5.9" lengthAdjust="spacingAndGlyphs">d</text>
<rect x="80.20" y="351.40" width="1.25" height="7.5" fill="#999"/>
<rect x="82.70" y="351.40" width="1.25" height="7.5" fill="#999"/>
<text x="232.25" y="358.70" font-size="11.6" font-style="italic" fill="#555" textLength="5.9" lengthAdjust="spacingAndGlyphs">d</text>
<rect x="238.70" y="356.20" width="1.25" height="7.5" fill="#888"/>
<rect x="241.20" y="356.20" width="1.25" height="7.5" fill="#888"/>
<text x="157.80" y="345.80" font-size="11.5" font-style="italic" fill="#333" textLength="6.0" lengthAdjust="spacingAndGlyphs">π</text>
<text x="164.45" y="346.00" font-size="14.5" fill="#6a6a6a">*</text>
<text x="314.70" y="341.20" font-size="11.5" font-style="italic" fill="#333" textLength="6.0" lengthAdjust="spacingAndGlyphs">π</text>
<text x="321.75" y="341.10" font-size="14.5" fill="#6a6a6a">*</text>
<text x="195.00" y="424.50" text-anchor="middle" font-size="11.4" fill="#222"><tspan font-style="italic">c</tspan><tspan font-size="8" dy="2.7">R</tspan><tspan dy="-2.7" font-size="13">/</tspan><tspan font-style="italic">a</tspan><tspan font-size="8" dy="2.7">R</tspan><tspan dy="-2.7"> or </tspan><tspan font-style="italic">T</tspan><tspan font-size="8" dy="2.7">MIT</tspan></text>
<line x1="49.00" y1="442.50" x2="338.00" y2="442.50" stroke="#5470c0" stroke-width="1.2"/>
<path d="M45.00,442.50 L50.50,439.70 L49.20,442.50 L50.50,445.30 Z" fill="#3d5cb4"/>
<text x="195.20" y="456.30" text-anchor="middle" font-size="11.5" fill="#5a74c4">Apical V−O</text>
<text x="350.3" y="283" font-size="22" fill="#000">d</text>
<path d="M378.60,409.80 V285.20 M378.10,409.80 H667.50" stroke="#333" stroke-width="1.1" fill="none"/>
<path d="M378.60,281.70 L376.00,286.90 L378.60,285.90 L381.20,286.90 Z" fill="#222"/>
<path d="M671.00,409.80 L665.80,407.10 L666.80,409.80 L665.80,412.50 Z" fill="#222"/>
<text transform="translate(367.80,344.60) rotate(-90)" text-anchor="middle" font-size="10.8" fill="#222" textLength="31.8" lengthAdjust="spacingAndGlyphs">Energy</text>
<path d="M421.5,322.3 V358.4 H495.2 V317.2 H474.6" stroke="#45ad69" stroke-width="1" fill="none"/>
<rect x="401.2" y="307.5" width="73.4" height="14.8" fill="#fff" stroke="#f0625a" stroke-width="1.25"/>
<rect x="401.2" y="375.1" width="73.4" height="14.8" fill="#ef3124"/>
<line x1="394" y1="361.3" x2="503" y2="361.3" stroke="#333" stroke-width="1" stroke-dasharray="4 3"/>
<line x1="561" y1="361.3" x2="669.3" y2="361.3" stroke="#333" stroke-width="1" stroke-dasharray="4 3"/>
<line x1="474.6" y1="307.5" x2="567.9" y2="311.3" stroke="#f0625a" stroke-width="1" stroke-dasharray="4 2.5 1 3.4"/>
<line x1="474.6" y1="389.9" x2="567.9" y2="384.2" stroke="#f0625a" stroke-width="1" stroke-dasharray="4 2.5 1 3.4"/>
<line x1="495.2" y1="358.4" x2="588.3" y2="353.4" stroke="#45ad69" stroke-width="1.2" stroke-dasharray="3.3 2.2"/>
<path d="M588.3,326.1 V353.4 H661.5 V312.6 H641.1" stroke="#45ad69" stroke-width="1" fill="none"/>
<rect x="567.9" y="311.3" width="73.2" height="14.8" fill="#fff" stroke="#f0625a" stroke-width="1.25"/>
<rect x="567.9" y="369.1" width="73.2" height="15.1" fill="#ef3124"/>
<text x="402.05" y="317.90" font-size="12.6" font-style="italic" fill="#555" textLength="5.9" lengthAdjust="spacingAndGlyphs">d</text>
<rect x="408.30" y="314.10" width="1.25" height="7.5" fill="#aaa"/>
<rect x="410.80" y="314.10" width="1.25" height="7.5" fill="#aaa"/>
<text x="412.45" y="316.90" font-size="14.5" fill="#6a6a6a">*</text>
<text x="403.85" y="383.80" font-size="10.9" font-style="italic" fill="#5a1410" textLength="5.9" lengthAdjust="spacingAndGlyphs">d</text>
<rect x="410.10" y="381.80" width="1.25" height="7.5" fill="#b02a20"/>
<rect x="412.60" y="381.80" width="1.25" height="7.5" fill="#b02a20"/>
<text x="479.60" y="356.00" font-size="11.5" font-style="italic" fill="#333" textLength="6.0" lengthAdjust="spacingAndGlyphs">π</text>
<text x="486.15" y="356.30" font-size="14.5" fill="#6a6a6a">*</text>
<text x="572.75" y="319.90" font-size="11.7" font-style="italic" fill="#555" textLength="5.9" lengthAdjust="spacingAndGlyphs">d</text>
<rect x="578.80" y="317.10" width="1.25" height="7.5" fill="#999"/>
<rect x="581.30" y="317.10" width="1.25" height="7.5" fill="#999"/>
<text x="583.25" y="319.90" font-size="14.5" fill="#6a6a6a">*</text>
<text x="569.95" y="378.80" font-size="11.4" font-style="italic" fill="#5a1410" textLength="5.9" lengthAdjust="spacingAndGlyphs">d</text>
<rect x="576.20" y="376.10" width="1.25" height="7.5" fill="#b02a20"/>
<rect x="578.70" y="376.10" width="1.25" height="7.5" fill="#b02a20"/>
<text x="646.40" y="351.00" font-size="11.5" font-style="italic" fill="#333" textLength="6.0" lengthAdjust="spacingAndGlyphs">π</text>
<text x="653.55" y="351.10" font-size="14.5" fill="#6a6a6a">*</text>
<text x="524.70" y="424.50" text-anchor="middle" font-size="11.4" fill="#222"><tspan font-style="italic">c</tspan><tspan font-size="8" dy="2.7">R</tspan><tspan dy="-2.7" font-size="13">/</tspan><tspan font-style="italic">a</tspan><tspan font-size="8" dy="2.7">R</tspan><tspan dy="-2.7"> or </tspan><tspan font-style="italic">T</tspan><tspan font-size="8" dy="2.7">MIT</tspan></text>
<line x1="379.50" y1="441.90" x2="668.90" y2="441.90" stroke="#5470c0" stroke-width="1.2"/>
<path d="M375.50,441.90 L381.00,439.10 L379.70,441.90 L381.00,444.70 Z" fill="#3d5cb4"/>
<text x="524.50" y="456.60" text-anchor="middle" font-size="11.5" fill="#5a74c4">Apical V−O</text>
<rect x="0" y="464.6" width="685" height="1.4" fill="#eef7f7"/>
</svg></body></html>
